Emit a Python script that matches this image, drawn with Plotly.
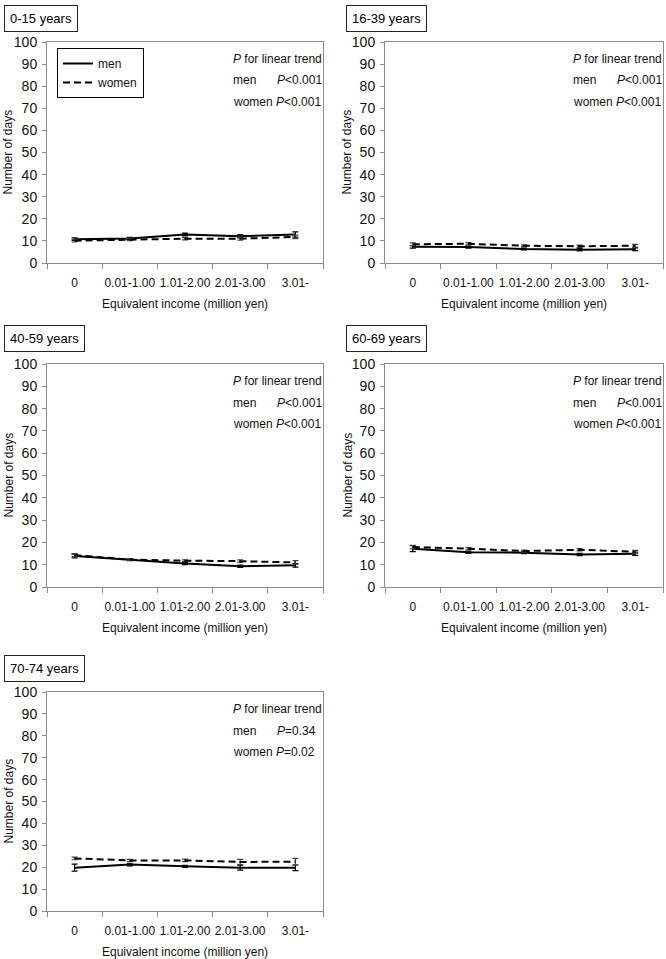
import plotly.graph_objects as go

W, H = 666, 959

categories = ["0", "0.01-1.00", "1.01-2.00", "2.01-3.00", "3.01-"]

panel_titles = ["0-15 years", "16-39 years", "40-59 years", "60-69 years", "70-74 years"]

men_0_15 = [10.8, 11.1, 12.9, 12.1, 12.9]
men_0_15_err = [0.6, 0.5, 0.6, 0.7, 1.2]
women_0_15 = [10.1, 10.6, 11.0, 11.0, 11.8]
women_0_15_err = [0.6, 0.5, 0.5, 0.7, 0.8]

men_16_39 = [7.3, 7.2, 6.3, 6.0, 6.2]
men_16_39_err = [0.6, 0.5, 0.4, 0.5, 0.6]
women_16_39 = [8.5, 8.7, 7.8, 7.6, 7.8]
women_16_39_err = [0.6, 0.5, 0.4, 0.5, 0.6]

men_40_59 = [13.9, 12.2, 10.5, 9.3, 9.7]
men_40_59_err = [0.8, 0.4, 0.5, 0.5, 0.8]
women_40_59 = [14.3, 12.3, 11.8, 11.6, 11.0]
women_40_59_err = [0.7, 0.4, 0.4, 0.6, 0.8]

men_60_69 = [17.2, 15.6, 15.4, 14.6, 14.9]
men_60_69_err = [1.3, 0.5, 0.5, 0.5, 0.7]
women_60_69 = [17.9, 17.2, 16.1, 16.7, 15.8]
women_60_69_err = [0.8, 0.5, 0.4, 0.5, 0.6]

men_70_74 = [19.8, 21.2, 20.4, 19.8, 19.7]
men_70_74_err = [1.6, 0.6, 0.5, 1.1, 1.3]
women_70_74 = [24.0, 23.1, 23.1, 22.4, 22.5]
women_70_74_err = [0.6, 0.5, 0.6, 1.2, 1.5]

p_men = ["<0.001", "<0.001", "<0.001", "<0.001", "=0.34"]
p_women = ["<0.001", "<0.001", "<0.001", "<0.001", "=0.02"]

y_ticks = [0, 10, 20, 30, 40, 50, 60, 70, 80, 90, 100]

series = [
    (men_0_15, men_0_15_err, women_0_15, women_0_15_err),
    (men_16_39, men_16_39_err, women_16_39, women_16_39_err),
    (men_40_59, men_40_59_err, women_40_59, women_40_59_err),
    (men_60_69, men_60_69_err, women_60_69, women_60_69_err),
    (men_70_74, men_70_74_err, women_70_74, women_70_74_err),
]

# layout geometry in pixels
cols = [(47, 323), (385, 663)]
rows = [(42, 263), (364, 587), (692, 911)]
title_tops = [5, 325, 655]
title_lefts = [4, 346]
ytitle_x = [8, 347]


def fx(px):
    return px / W


def fy(py):
    return 1 - py / H


FONT = "Liberation Sans, Arial, sans-serif"
AXIS_GRAY = "#8c8c8c"

fig = go.Figure()
annotations = []
layout_axes = {}

for i, (m, me, w, we) in enumerate(series):
    r, c = divmod(i, 2)
    x0, x1 = cols[c]
    top, bot = rows[r]
    n = i + 1
    xa = "x" if n == 1 else f"x{n}"
    ya = "y" if n == 1 else f"y{n}"
    xkey = "xaxis" if n == 1 else f"xaxis{n}"
    ykey = "yaxis" if n == 1 else f"yaxis{n}"

    fig.add_trace(go.Scatter(
        x=categories, y=m, xaxis=xa, yaxis=ya, name="men",
        mode="lines",
        line=dict(color="black", width=2),
        error_y=dict(type="data", array=me, visible=True, color="black", thickness=1.2, width=3),
        showlegend=(i == 0),
    ))
    fig.add_trace(go.Scatter(
        x=categories, y=w, xaxis=xa, yaxis=ya, name="women",
        mode="lines",
        line=dict(color="black", width=2, dash="7px,4px"),
        error_y=dict(type="data", array=we, visible=True, color="#444444", thickness=1.2, width=3),
        showlegend=(i == 0),
    ))

    layout_axes[xkey] = dict(
        domain=[fx(x0), fx(x1)], anchor=ya, automargin=False,
        type="category", range=[-0.5, 4.5],
        tickson="boundaries", ticks="outside", ticklen=5, tickcolor=AXIS_GRAY,
        showline=True, linecolor=AXIS_GRAY, linewidth=1, mirror=True,
        showgrid=False, zeroline=False, fixedrange=True, tickangle=0,
        tickfont=dict(family=FONT, size=12, color="#111111"),
        ticklabelstandoff=9,
    )
    layout_axes[ykey] = dict(
        domain=[fy(bot), fy(top)], anchor=xa, automargin=False,
        range=[0, 100], tickvals=y_ticks,
        ticks="outside", ticklen=4, tickcolor=AXIS_GRAY,
        showline=True, linecolor=AXIS_GRAY, linewidth=1, mirror=True,
        showgrid=False, zeroline=False, fixedrange=True,
        tickfont=dict(family=FONT, size=14, color="#111111"),
        ticklabelstandoff=2,
    )

    # panel title box
    annotations.append(dict(
        text=panel_titles[i], xref="paper", yref="paper",
        x=fx(title_lefts[c]), y=fy(title_tops[r]), xanchor="left", yanchor="top",
        showarrow=False, font=dict(family=FONT, size=13, color="black"),
        bordercolor="#222222", borderwidth=1, borderpad=5, bgcolor="white",
    ))
    # y title
    annotations.append(dict(
        text="Number of days", xref="paper", yref="paper",
        x=fx(ytitle_x[c]), y=fy((top + bot) / 2), xanchor="center", yanchor="middle",
        textangle=-90, showarrow=False, font=dict(family=FONT, size=12, color="#111111"),
    ))
    # x title
    annotations.append(dict(
        text="Equivalent income (million yen)", xref="paper", yref="paper",
        x=fx((x0 + x1) / 2), y=fy(bot + 41), xanchor="center", yanchor="middle",
        showarrow=False, font=dict(family=FONT, size=12, color="#111111"),
    ))
    # P for trend
    tx = x1 - 92
    for j, (txt, xx) in enumerate([
        ("<i>P</i> for linear trend", tx),
        ("men", tx),
        (f"<i>P</i>{p_men[i]}", x1 - 48),
        (f"women <i>P</i>{p_women[i]}", tx),
    ]):
        line = 0 if j == 0 else (1 if j in (1, 2) else 2)
        annotations.append(dict(
            text=txt, xref="paper", yref="paper",
            x=fx(xx), y=fy(top + 17 + 21.5 * line), xanchor="left", yanchor="middle",
            showarrow=False, font=dict(family=FONT, size=12, color="#111111"),
        ))

fig.update_layout(
    width=W, height=H,
    margin=dict(l=0, r=0, t=0, b=0, autoexpand=False),
    paper_bgcolor="white", plot_bgcolor="white",
    font=dict(family=FONT, size=12, color="#111111"),
    annotations=annotations,
    legend=dict(
        x=fx(57), y=fy(48), xanchor="left", yanchor="top",
        bordercolor="black", borderwidth=1, bgcolor="white",
        font=dict(family=FONT, size=12, color="#111111"),
    ),
    **layout_axes,
)

fig.write_html(
    "out.html",
    config={"displayModeBar": False},
    post_script="document.body.style.margin='0';document.body.style.overflow='hidden';",
)
